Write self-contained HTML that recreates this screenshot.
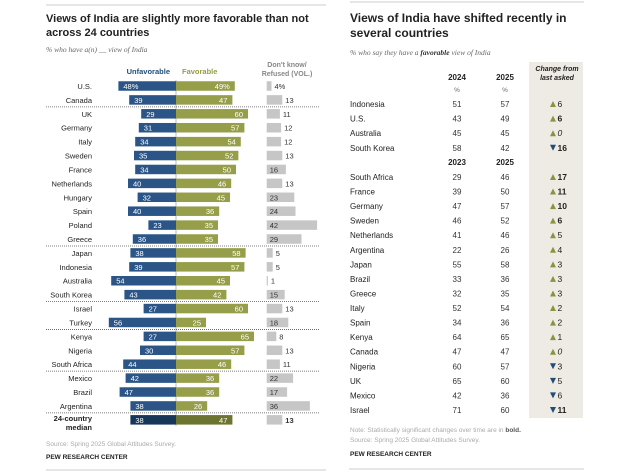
<!DOCTYPE html>
<html><head><meta charset="utf-8"><style>
html,body{margin:0;padding:0;background:#fff;}
svg{display:block;font-family:"Liberation Sans",Arial,sans-serif;}
</style></head><body>
<svg id="c" width="632" height="474" viewBox="0 0 632 474">
<g>
<line x1="46" y1="5" x2="326" y2="5" stroke="#ccc" stroke-width="1"/>
<text x="46" y="22" font-size="11" font-weight="bold" fill="#222">Views of India are slightly more favorable than not</text>
<text x="46" y="36" font-size="11" font-weight="bold" fill="#222">across 24 countries</text>
<text x="46" y="52" font-size="7.5" font-style="italic" font-family="Liberation Serif,serif" fill="#666">% who have a(n) __ view of India</text>
<text x="170" y="74" font-size="7.5" font-weight="bold" fill="#1f4e7a" text-anchor="end">Unfavorable</text>
<text x="182" y="74" font-size="7.5" font-weight="bold" fill="#959d45">Favorable</text>
<text x="287" y="67" font-size="7" font-weight="bold" fill="#888" text-anchor="middle">Don't know/</text>
<text x="287" y="76" font-size="7" font-weight="bold" fill="#888" text-anchor="middle">Refused (VOL.)</text>
<line x1="176" y1="80" x2="176" y2="426" stroke="#bbb" stroke-width="1"/>
<g id="bars"></g>
<text x="46" y="446" font-size="6.5" fill="#aaa">Source: Spring 2025 Global Attitudes Survey.</text>
<text x="46" y="459" font-size="6.5" font-weight="bold" fill="#222">PEW RESEARCH CENTER</text>
<line x1="46" y1="470" x2="326" y2="470" stroke="#ccc" stroke-width="1"/>
</g>
<g>
<line x1="350" y1="2" x2="584" y2="2" stroke="#ccc" stroke-width="1"/>
<rect x="529" y="62" width="54" height="356" fill="#eeebe4"/>
<text x="350" y="22" font-size="12" font-weight="bold" fill="#222">Views of India have shifted recently in</text>
<text x="350" y="37" font-size="12" font-weight="bold" fill="#222">several countries</text>
<text x="350" y="55" font-size="7.5" font-style="italic" font-family="Liberation Serif,serif" fill="#666">% who say they have a <tspan font-weight="bold" fill="#333">favorable</tspan> view of India</text>
<text x="557" y="71" font-size="7" font-weight="bold" font-style="italic" fill="#222" text-anchor="middle">Change from</text>
<text x="557" y="80" font-size="7" font-weight="bold" font-style="italic" fill="#222" text-anchor="middle">last asked</text>
<text x="457" y="80" font-size="8" font-weight="bold" fill="#222" text-anchor="middle">2024</text>
<text x="505" y="80" font-size="8" font-weight="bold" fill="#222" text-anchor="middle">2025</text>
<text x="457" y="92" font-size="6.5" fill="#666" text-anchor="middle">%</text>
<text x="505" y="92" font-size="6.5" fill="#666" text-anchor="middle">%</text>
<text x="457" y="165" font-size="8" font-weight="bold" fill="#222" text-anchor="middle">2023</text>
<text x="505" y="165" font-size="8" font-weight="bold" fill="#222" text-anchor="middle">2025</text>
<g id="tbl"></g>
<text x="350" y="432" font-size="6.5" fill="#aaa">Note: Statistically significant changes over time are in <tspan font-weight="bold" fill="#555">bold.</tspan></text>
<text x="350" y="442" font-size="6.5" fill="#aaa">Source: Spring 2025 Global Attitudes Survey.</text>
<text x="350" y="456" font-size="6.5" font-weight="bold" fill="#222">PEW RESEARCH CENTER</text>
<line x1="349" y1="469" x2="584" y2="469" stroke="#ccc" stroke-width="1"/>
</g>
</svg>
<script>
const countries = ["U.S.","Canada","UK","Germany","Italy","Sweden","France","Netherlands","Hungary","Spain","Poland","Greece","Japan","Indonesia","Australia","South Korea","Israel","Turkey","Kenya","Nigeria","South Africa","Mexico","Brazil","Argentina","24-country median"];
const unfavorable = [48,39,29,31,34,35,34,40,32,40,23,36,38,39,54,43,27,56,27,30,44,42,47,38,38];
const favorable = [49,47,60,57,54,52,50,46,45,36,35,35,58,57,45,42,60,25,65,57,46,36,36,26,47];
const dontKnow = [4,13,11,12,12,13,16,13,23,24,42,29,5,5,1,15,13,18,8,13,11,22,17,36,13];
const separatorsAfter = [1,11,15,17,20,23];

const tCountries = ["Indonesia","U.S.","Australia","South Korea","South Africa","France","Germany","Sweden","Netherlands","Argentina","Japan","Brazil","Greece","Italy","Spain","Kenya","Canada","Nigeria","UK","Mexico","Israel"];
const tPrev = [51,43,45,58,29,39,47,46,41,22,55,33,32,52,34,64,47,60,65,42,71];
const tCurr = [57,49,45,42,46,50,57,52,46,26,58,36,35,54,36,65,47,57,60,36,60];
const tSig = [false,true,false,true,true,true,true,true,false,false,false,false,false,false,false,false,false,false,false,false,true];

const NS="http://www.w3.org/2000/svg";
function mk(tag,attrs,parent,text){const e=document.createElementNS(NS,tag);for(const k in attrs)e.setAttribute(k,attrs[k]);if(text!==undefined)e.textContent=text;parent.appendChild(e);return e;}
const cx=176, k=1.2, dkX=266.7, y0=86, step=13.91, bh=9.5;
const xU=v=>cx-v*k, xF=v=>cx+v*k, wD=v=>v*k, yRow=i=>y0+i*step;
const bars=document.getElementById('bars');
countries.forEach((c,i)=>{
  const y=yRow(i), med=i===countries.length-1;
  const g=mk('g',{},bars);
  
  
  if(med){
    const t1=mk('text',{x:92,y:y+1,'font-size':7.5,'font-weight':'bold',fill:'#222','text-anchor':'end'},g,'24-country');
    
    
    const t2=mk('text',{x:92,y:y+10,'font-size':7.5,'font-weight':'bold',fill:'#222','text-anchor':'end'},g,'median');
    
    
  } else {
    const t=mk('text',{x:92,y:y+3,'font-size':7.5,fill:'#222','text-anchor':'end'},g,c);
    
    
  }
  const u=unfavorable[i], f=favorable[i], d=dontKnow[i];
  const ru=mk('rect',{x:xU(u),y:y-bh/2,width:u*k,height:bh,fill:med?'#16365a':'#2a5586'},g);
  
  
  const rf=mk('rect',{x:cx,y:y-bh/2,width:f*k,height:bh,fill:med?'#6c7430':'#979e4a'},g);
  
  
  const rd=mk('rect',{x:dkX,y:y-bh/2,width:wD(d),height:bh,fill:'#c6c6c6'},g);
  
  
  const pu=i===0?u+'%':u, pf=i===0?f+'%':f, pd=i===0?d+'%':d;
  const lu=mk('text',{x:xU(u)+5,y:y+3,'font-size':7.5,fill:'#fff'},g,pu);
  
  
  const lf=mk('text',{x:xF(f)-5,y:y+3,'font-size':7.5,fill:'#fff','text-anchor':'end'},g,pf);
  
  
  const inside=d>=15;
  const ld=mk('text',{x:inside?dkX+3:dkX+wD(d)+3,y:y+3,'font-size':7.5,fill:'#333','font-weight':med?'bold':'normal'},g,pd);
  
  
});
separatorsAfter.forEach(i=>{
  const y=(yRow(i)+yRow(i+1))/2;
  const l=mk('line',{x1:46,y1:y,x2:319,y2:y,stroke:'#555','stroke-width':0.8,'stroke-dasharray':'1,1'},bars);
  
  
});
const tbl=document.getElementById('tbl');
const tRowY=i=> i<4 ? 107+i*14.6 : 180+(i-4)*14.56;
tCountries.forEach((c,i)=>{
  const y=tRowY(i);
  const g=mk('g',{},tbl);
  
  
  const t=mk('text',{x:350,y:y,'font-size':8,fill:'#222'},g,c);
  
  
  const a=mk('text',{x:457,y:y,'font-size':8,fill:'#333','text-anchor':'middle'},g,tPrev[i]);
  
  
  const b=mk('text',{x:505,y:y,'font-size':8,fill:'#333','text-anchor':'middle'},g,tCurr[i]);
  
  
  const ch=tCurr[i]-tPrev[i], up=ch>=0;
  const ax=553;
  const tri=mk('path',{d: up?`M${ax-3},${y} L${ax+3},${y} L${ax},${y-6} Z`:`M${ax-3},${y-6} L${ax+3},${y-6} L${ax},${y} Z`,fill:up?'#8a9440':'#1f4e7a'},g);
  
  
  const v=mk('text',{x:ax+4.5,y:y,'font-size':8.5,fill:'#222','font-weight':tSig[i]?'bold':'normal','font-style':ch===0?'italic':'normal'},g,Math.abs(ch));
  
  
});
</script>
</body></html>
